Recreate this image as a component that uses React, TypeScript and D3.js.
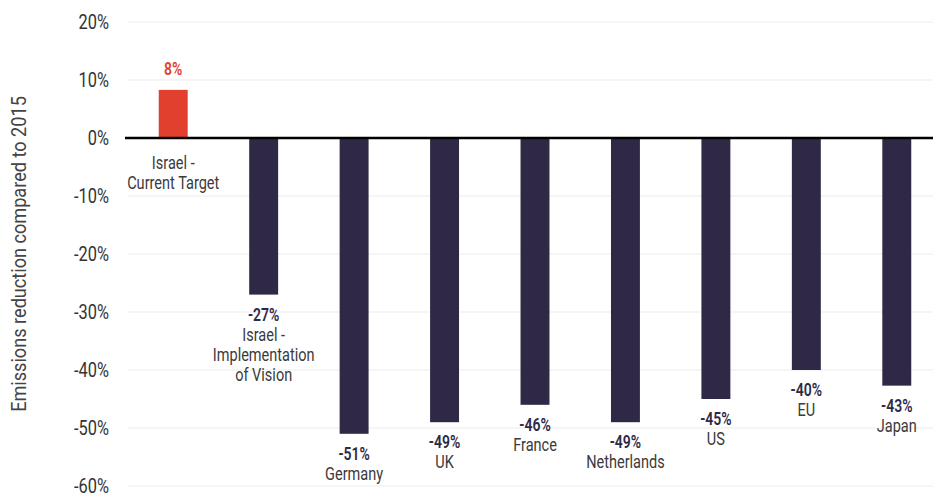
import React from "react";
import * as d3 from "d3";

const categories: string[][] = [
  ["Israel -", "Current Target"],
  ["Israel -", "Implementation", "of Vision"],
  ["Germany"],
  ["UK"],
  ["France"],
  ["Netherlands"],
  ["US"],
  ["EU"],
  ["Japan"],
];
const values: number[] = [8.3, -27, -51, -49, -46, -49, -45, -40, -42.7];
const valueLabels: string[] = ["8%", "-27%", "-51%", "-49%", "-46%", "-49%", "-45%", "-40%", "-43%"];
const yTicks: number[] = [20, 10, 0, -10, -20, -30, -40, -50, -60];
const yTitle = "Emissions reduction compared to 2015";

const W = 933;
const H = 497;
const FONT = "Roboto, 'Liberation Sans', sans-serif";
const RED = "#e2402f";
const NAVY = "#2f2946";
const SX = 0.83;

function T(props: {
  x: number;
  y: number;
  size: number;
  anchor?: string;
  fill?: string;
  weight?: string | number;
  dy?: string;
  rotate?: number;
  sx?: number;
  children: React.ReactNode;
}) {
  const { x, y, size, anchor = "middle", fill = "#333", weight = "normal", dy, rotate, sx = SX } = props;
  return (
    <text
      transform={`translate(${x},${y})${rotate ? ` rotate(${rotate})` : ""} scale(${sx},1)`}
      textAnchor={anchor}
      fontSize={size}
      fill={fill}
      fontWeight={weight}
      dy={dy}
    >
      {props.children}
    </text>
  );
}

export default function App() {
  const y = d3.scaleLinear().domain([-60, 20]).range([486, 22]);
  const x = d3
    .scaleBand<number>()
    .domain(d3.range(categories.length))
    .range([128, 942])
    .paddingInner(0.68)
    .paddingOuter(0.34);
  const y0 = y(0);

  return (
    <svg
      width={W}
      height={H}
      style={{ position: "absolute", left: 0, top: 0, background: "#fff" }}
      fontFamily={FONT}
    >
      {yTicks.map((t) => (
        <g key={t}>
          {t !== 0 && (
            <line x1={128} x2={W} y1={y(t)} y2={y(t)} stroke="#ececec" strokeWidth={1.2} />
          )}
          <T x={109} y={y(t)} dy="0.35em" anchor="end" size={21} fill="#333" sx={0.78}>
            {`${t}%`}
          </T>
        </g>
      ))}
      <T x={26} y={(95 + 413) / 2} anchor="middle" size={19.5} fill="#444" rotate={-90} sx={0.93}>
        {yTitle}
      </T>
      {values.map((v, i) => {
        const bx = x(i)!;
        const bw = x.bandwidth();
        const cx = bx + bw / 2;
        const top = v >= 0 ? y(v) : y0;
        const h = Math.abs(y(v) - y0);
        const pos = v >= 0;
        const valueY = pos ? y(v) - 15 : y(v) + 26;
        const catStart = pos ? y0 + 31 : valueY + 20;
        return (
          <g key={i}>
            <rect x={bx} y={top} width={bw} height={h} fill={pos ? RED : NAVY} />
            <T x={cx} y={valueY} size={17.5} weight={600} fill={pos ? RED : NAVY} sx={0.8}>
              {valueLabels[i]}
            </T>
            {categories[i].map((line, j) => (
              <T key={j} x={cx} y={catStart + j * 20} size={17.5} fill="#3a3a3a">
                {line}
              </T>
            ))}
          </g>
        );
      })}
      <line x1={125} x2={W} y1={y0} y2={y0} stroke="#000" strokeWidth={2.5} />
    </svg>
  );
}
